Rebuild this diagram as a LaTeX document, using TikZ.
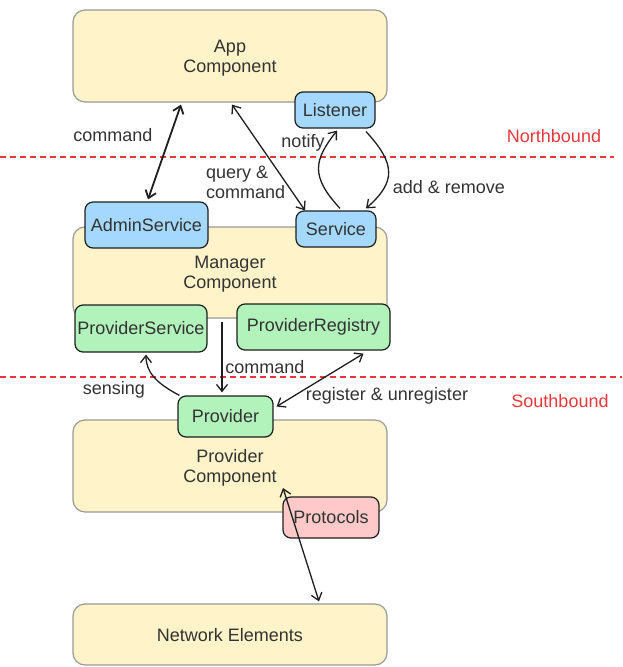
\documentclass[tikz,border=0pt]{standalone}
\usepackage{fontspec}
\setmainfont{Liberation Sans}
\usetikzlibrary{arrows.meta}
\definecolor{ylw}{HTML}{FFF3C9}
\definecolor{blu}{HTML}{A5D8FF}
\definecolor{grn}{HTML}{B2F2BB}
\definecolor{pnk}{HTML}{FFC9C9}
\definecolor{ink}{HTML}{1E1E1E}
\definecolor{txt}{HTML}{333333}
\definecolor{rd}{HTML}{E8383D}
\definecolor{bigedge}{HTML}{9A9A9A}
\begin{document}
\begin{tikzpicture}[x=1pt,y=-1pt,
  every node/.style={font=\fontsize{18}{20}\selectfont, text=txt, inner sep=0pt},
  bigbox/.style={draw=bigedge, fill=ylw, line width=1.2pt, rounded corners=12pt, minimum width=314pt, align=center, text depth=0pt},
  smallbox/.style={draw=ink, line width=1.2pt, rounded corners=8pt, align=center},
  conn/.style={draw=ink, line width=1.3pt, -{Straight Barb[length=7pt,width=11pt]}},
  dconn/.style={draw=ink, line width=1.3pt, {Straight Barb[length=7pt,width=11pt]}-{Straight Barb[length=7pt,width=11pt]}},
  lbl/.style={text=txt},
  bound/.style={draw=rd, color=rd, line width=1.1pt, dash pattern=on 6pt off 4pt}
]
\useasboundingbox (0,0) rectangle (622,667);

% boundaries
\coordinate (nbL) at (0,157);
\coordinate (nbR) at (614,157);
\coordinate (sbL) at (0,377);
\coordinate (sbR) at (622,377);
\draw[bound] (nbL) -- (nbR);
\draw[bound] (sbL) -- (sbR);
\node[text=rd] (north) at (554,136) {Northbound};
\node[text=rd] (south) at (560,401) {Southbound};

% big boxes
\node[bigbox, minimum height=92pt] (app) at (230,56) {App\\Component};
\node[bigbox, minimum height=91pt] (mgr) at (230,272.5) {Manager\\Component};
\node[bigbox, minimum height=92pt] (pc) at (230,466) {Provider\\Component};
\node[bigbox, minimum height=61pt] (ne) at (230,634.5) {Network Elements};

% small boxes
\node[smallbox, fill=blu, minimum width=80pt, minimum height=36pt] (lst) at (335,110) {Listener};
\node[smallbox, fill=blu, minimum width=123pt, minimum height=46pt] (adm) at (146.5,225) {AdminService};
\node[smallbox, fill=blu, minimum width=80pt, minimum height=36pt] (srv) at (336,229) {Service};
\node[smallbox, fill=grn, minimum width=132pt, minimum height=47pt] (ps) at (141,328.5) {ProviderService};
\node[smallbox, fill=grn, minimum width=153pt, minimum height=46pt] (pr) at (313.5,327) {ProviderRegistry};
\node[smallbox, fill=grn, minimum width=95pt, minimum height=41pt] (prov) at (225.5,416.5) {Provider};
\node[smallbox, fill=pnk, minimum width=96pt, minimum height=41pt] (proto) at (331,517.5) {Protocols};

% connectors
\draw[dconn, line width=1.8pt] ([xshift=-49pt,yshift=-2pt]app.south) -- ([xshift=1.5pt,yshift=2pt]adm.north);
\draw[dconn] ([xshift=2pt,yshift=-2pt]app.south) -- ([xshift=-31pt,yshift=0pt]srv.north);
\draw[conn] ([xshift=4pt,yshift=2pt]srv.north) .. controls (310,176) and (314,160) .. ([xshift=2pt,yshift=-2pt]lst.south);
\draw[conn] ([xshift=31pt,yshift=-3pt]lst.south) .. controls (396,164) and (396,182) .. ([xshift=30pt,yshift=2pt]srv.north);
\draw[conn] ([xshift=-8pt,yshift=-3pt]mgr.south) -- ([xshift=-3.5pt,yshift=3pt]prov.north);
\draw[conn] ([xshift=2pt]prov.north west) .. controls (156,383) and (146,372) .. ([xshift=5pt,yshift=-2pt]ps.south);
\draw[dconn] ([xshift=3pt,yshift=10pt]prov.east) -- ([xshift=50pt,yshift=-3pt]pr.south);
\draw[dconn] ([xshift=53pt,yshift=-22pt]pc.center) -- ([xshift=89pt,yshift=2pt]ne.north);

% labels
\node[lbl] (lcmd1) at (113,135) {command};
\node[lbl, anchor=west, align=left] (lqc) at (206,182) {query \&\\command};
\node[lbl] (lnot) at (303,143) {notify};
\node[lbl] (ladd) at (449,187) {add \& remove};
\node[lbl] (lcmd2) at (265,367) {command};
\node[lbl] (lsen) at (114,390) {sensing};
\node[lbl] (lreg) at (387,396) {register \& unregister};
\end{tikzpicture}
\end{document}
